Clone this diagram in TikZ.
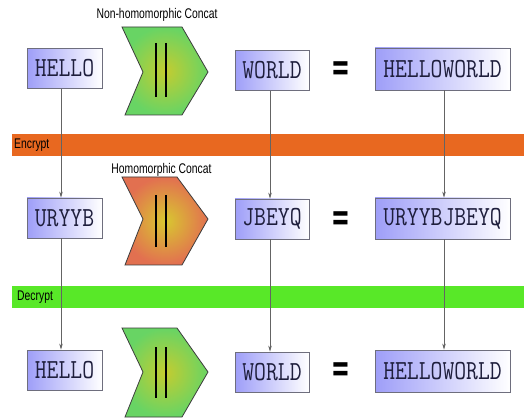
\documentclass[tikz,border=0pt]{standalone}
\usepackage{fontspec}
\setmainfont{Liberation Sans}
\newfontfamily\eqfont{DejaVu Sans}
\usetikzlibrary{arrows.meta}
\definecolor{boxc}{RGB}{158,158,248}
\definecolor{boxline}{RGB}{110,110,125}
\definecolor{boxtext}{RGB}{30,30,60}
\definecolor{encband}{RGB}{232,104,32}
\definecolor{decband}{RGB}{88,232,40}
\definecolor{chgreen}{RGB}{104,212,100}
\definecolor{chyellow}{RGB}{196,204,48}
\definecolor{chorange}{RGB}{226,112,80}
\definecolor{chorangeC}{RGB}{216,200,48}
\definecolor{chedge}{RGB}{60,60,60}
\definecolor{linec}{RGB}{100,100,100}
\begin{document}
\begin{tikzpicture}[x=1pt,y=-1pt,
  word/.style={draw=boxline, line width=0.8pt, left color=boxc, middle color=boxc!80!white, right color=white,
    font=\ttfamily\fontsize{23}{23}\selectfont, text=boxtext, inner sep=0pt, anchor=center},
  short/.style={minimum width=75pt, minimum height=40pt},
  long/.style={minimum width=135pt, minimum height=41pt},
  conn/.style={draw=linec, line width=0.6pt, -{Stealth[length=6pt,width=3.5pt]}},
  chev/.style={draw=chedge, line width=0.8pt},
  bar/.style={line width=2.6pt, black},
  lbl/.style={font=\fontsize{14}{14}\selectfont, inner sep=0pt},
  eqs/.style={font=\eqfont\bfseries\fontsize{30}{30}\selectfont, inner sep=0pt}
]
\useasboundingbox (0,0) rectangle (524,419);
\fill[white] (0,0) rectangle (524,419);

% bands
\fill[encband] (12,134) rectangle (524,156);
\fill[decband] (12,286) rectangle (524,308);
\node[lbl, anchor=west] (enc) at (14,145) {\scalebox{0.74}[1]{Encrypt}};
\node[lbl, anchor=west] (dec) at (17,297) {\scalebox{0.74}[1]{Decrypt}};

% chevrons
\shadedraw[chev, inner color=chyellow, outer color=chgreen]
  (122,27) -- (182,27) -- (208,72) -- (182,115) -- (125,115) -- (143,72) -- cycle;
\shadedraw[chev, inner color=chorangeC, outer color=chorange]
  (122,177) -- (177,177) -- (208,219) -- (182,265) -- (125,265) -- (143,219) -- cycle;
\shadedraw[chev, inner color=chyellow, outer color=chgreen]
  (122,328) -- (177,328) -- (208,372) -- (182,417) -- (125,417) -- (143,372) -- cycle;
\draw[bar] (156,43) -- (156,97);  \draw[bar] (166,43) -- (166,97);
\draw[bar] (156,195) -- (156,247); \draw[bar] (166,195) -- (166,247);
\draw[bar] (156,347) -- (156,398); \draw[bar] (166,347) -- (166,398);

\node[lbl] (l1) at (157,15) {\scalebox{0.74}[1]{Non-homomorphic Concat}};
\node[lbl] (l2) at (161.5,170) {\scalebox{0.74}[1]{Homomorphic Concat}};

% boxes
\node[word, short] (h1) at (64.5,68.5) {\scalebox{1}[1.2]{HELLO}};
\node[word, short, minimum width=74pt] (w1) at (272,70.5) {\scalebox{1}[1.2]{WORLD}};
\node[word, long, minimum height=42pt] (hw1) at (442.5,69) {\scalebox{1}[1.2]{HELLOWORLD}};
\node[word, short] (u1) at (64.5,218) {\scalebox{1}[1.2]{URYYB}};
\node[word, short, minimum width=74pt] (j1) at (272,219) {\scalebox{1}[1.2]{JBEYQ}};
\node[word, long] (uj1) at (442.5,218.5) {\scalebox{1}[1.2]{URYYBJBEYQ}};
\node[word, short] (h3) at (64.5,370) {\scalebox{1}[1.2]{HELLO}};
\node[word, short, minimum width=74pt] (w3) at (272,372) {\scalebox{1}[1.2]{WORLD}};
\node[word, long, minimum height=42pt] (hw3) at (442.5,371) {\scalebox{1}[1.2]{HELLOWORLD}};

% equals
\node[eqs] (e1) at (341,71) {\scalebox{0.75}[1.3]{=}};
\node[eqs] (e2) at (341,221) {\scalebox{0.75}[1.3]{=}};
\node[eqs] (e3) at (341,372) {\scalebox{0.75}[1.3]{=}};

% connectors
\draw[conn] ([xshift=-3.5pt]h1.south) -- ([xshift=-3.5pt]u1.north);
\draw[conn] ([xshift=-3.5pt]u1.south) -- ([xshift=-3.5pt]h3.north);
\draw[conn] ([xshift=-2pt]w1.south) -- ([xshift=-2pt]j1.north);
\draw[conn] ([xshift=-2pt]j1.south) -- ([xshift=-2pt]w3.north);
\draw[conn] ([xshift=1.5pt]hw1.south) -- ([xshift=1.5pt]uj1.north);
\draw[conn] ([xshift=1.5pt]uj1.south) -- ([xshift=1.5pt]hw3.north);
\end{tikzpicture}
\end{document}
